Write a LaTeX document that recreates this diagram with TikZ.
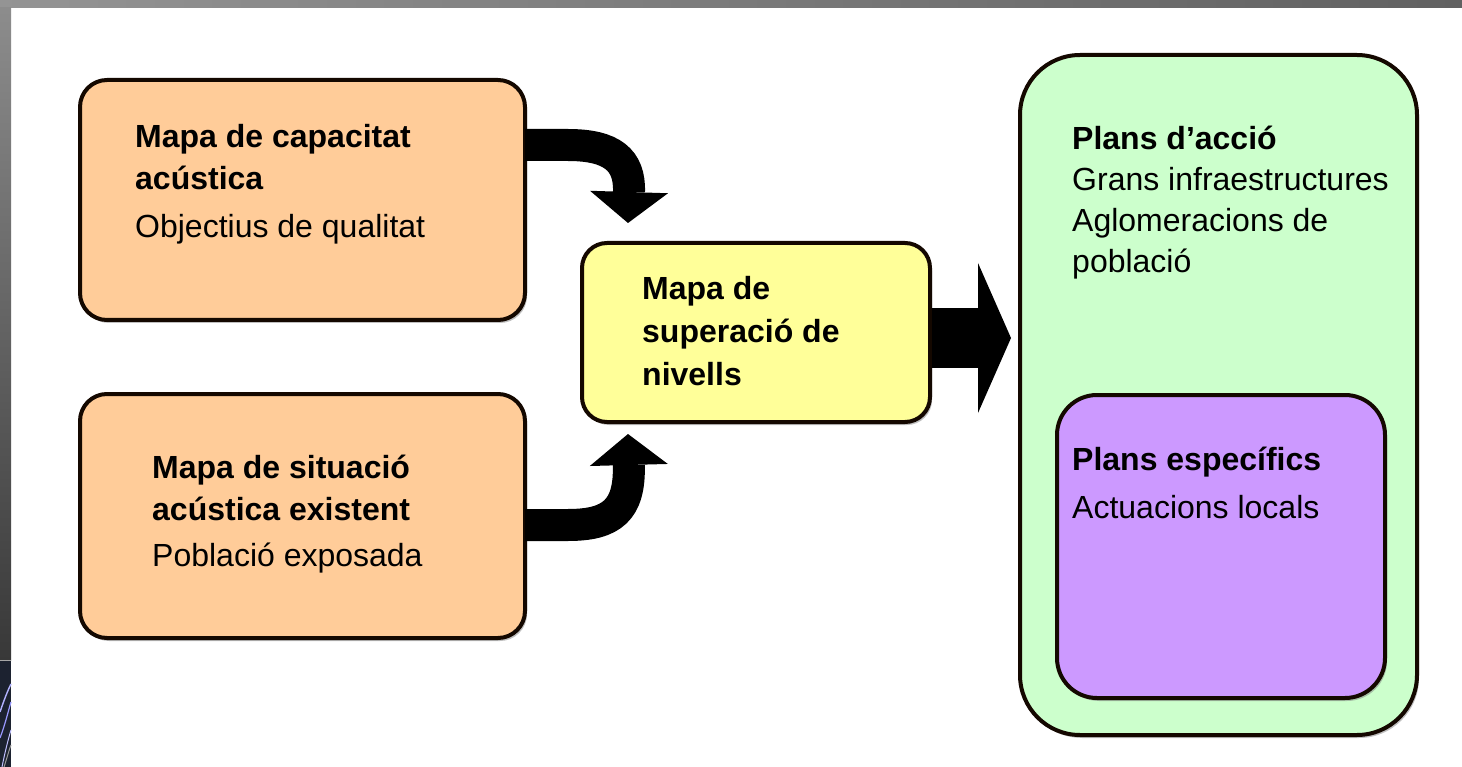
\documentclass[tikz,border=0pt]{standalone}
\usepackage{fontspec}
\setmainfont{Liberation Sans}
\usetikzlibrary{arrows.meta,calc,shadows}
\definecolor{orangefill}{HTML}{FFCC99}
\definecolor{yellowfill}{HTML}{FFFF99}
\definecolor{greenfill}{HTML}{CCFFCC}
\definecolor{purplefill}{HTML}{CC99FF}
\definecolor{boxline}{HTML}{140800}
\definecolor{framedark}{HTML}{1C2230}
\newcommand\txtstack[2]{\vtop{\baselineskip=#1\lineskip=0pt\lineskiplimit=-100pt #2}}
\tikzset{
  roundbox/.style={draw=boxline, line width=4pt, rounded corners=#1, inner sep=0pt,
    drop shadow={shadow xshift=2pt, shadow yshift=-3pt, fill=black!50, opacity=0.5}},
  boxtext/.style={anchor=base west, inner sep=0pt, text=black,
    font=\fontsize{32pt}{42pt}\selectfont},
  bentarrow/.style={draw=black, line width=32pt,
    -{Triangle[width=78pt,length=31pt,line width=0pt]}},
  bigarrow/.style={draw=black, line width=59pt,
    -{Triangle[width=150pt,length=33pt,line width=0pt]}}
}
\begin{document}
\begin{tikzpicture}[x=1pt,y=-1pt]
\useasboundingbox (0,0) rectangle (1462,767);
\fill[white] (0,0) rectangle (1462,767);
% frame
\shade[left color=black!42, right color=black!62] (0,0) rectangle (1462,8);
\shade[top color=black!45, bottom color=black!78] (0,8) rectangle (11,660);
\fill[framedark] (0,660) rectangle (11,767);
\draw[black!35, line width=1pt] (0,660.5) -- (11,660.5);
\draw[white!70!blue, line width=1.4pt] (0,712) .. controls (4,700) and (8,690) .. (11,684);
\draw[white!60!blue, line width=1.2pt] (0,738) .. controls (5,725) and (8,712) .. (11,702);
\draw[white!75!blue, line width=1pt] (2,767) .. controls (5,752) and (8,740) .. (11,730);
\draw[black!40, line width=1pt] (4,767) .. controls (7,758) and (9,750) .. (11,745);

% boxes
\node[roundbox=27pt, fill=orangefill, minimum width=445pt, minimum height=240pt] (cap) at (302.5,200) {};
\node[roundbox=27pt, fill=orangefill, minimum width=445pt, minimum height=244pt] (exist) at (302.5,516) {};
\node[roundbox=25pt, fill=yellowfill, minimum width=348pt, minimum height=179pt] (sup) at (756,332.5) {};
\node[roundbox=60pt, fill=greenfill, minimum width=397pt, minimum height=680pt] (plans) at (1218.5,395) {};
\node[roundbox=40pt, fill=purplefill, minimum width=328pt, minimum height=303pt] (espec) at (1221,546.5) {};

% texts
\node[boxtext] (capt) at (135,148) {\txtstack{42pt}{\hbox{\bfseries Mapa de capacitat}\hbox{\bfseries acústica}\vskip6pt\hbox{Objectius de qualitat}}};
\node[boxtext] (existt) at (152,478) {\txtstack{42pt}{\hbox{\bfseries Mapa de situació}\hbox{\bfseries acústica existent}\vskip4pt\hbox{Població exposada}}};
\node[boxtext] (supt) at (642,300) {\txtstack{43pt}{\hbox{\bfseries Mapa de}\hbox{\bfseries superació de}\hbox{\bfseries nivells}}};
\node[boxtext] (planst) at (1072,150) {\txtstack{41pt}{\hbox{\bfseries Plans d’acció}\hbox{Grans infraestructures}\hbox{Aglomeracions de}\hbox{població}}};
\node[boxtext] (espect) at (1072,470) {\txtstack{48pt}{\hbox{\bfseries Plans específics}\hbox{Actuacions locals}}};

% arrows
\coordinate (upy) at (0,145);
\coordinate (lowy) at (0,525);
\coordinate (upbend) at (568,145);
\coordinate (lowbend) at (568,525);
\draw[bentarrow] ([xshift=-2pt]cap.east |- upy) -- (upbend)
  .. controls (612,145) and (630,160) .. ($(sup.north west)+(48,-18)$);
\draw[bentarrow] ([xshift=-2pt]exist.east |- lowy) -- (lowbend)
  .. controls (612,525) and (630,510) .. ($(sup.south west)+(48,10)$);
\draw[bigarrow] ($(sup.east)+(0,5.5)$) -- ($(plans.west |- sup.east)+(-7,5.5)$);
\end{tikzpicture}
\end{document}
